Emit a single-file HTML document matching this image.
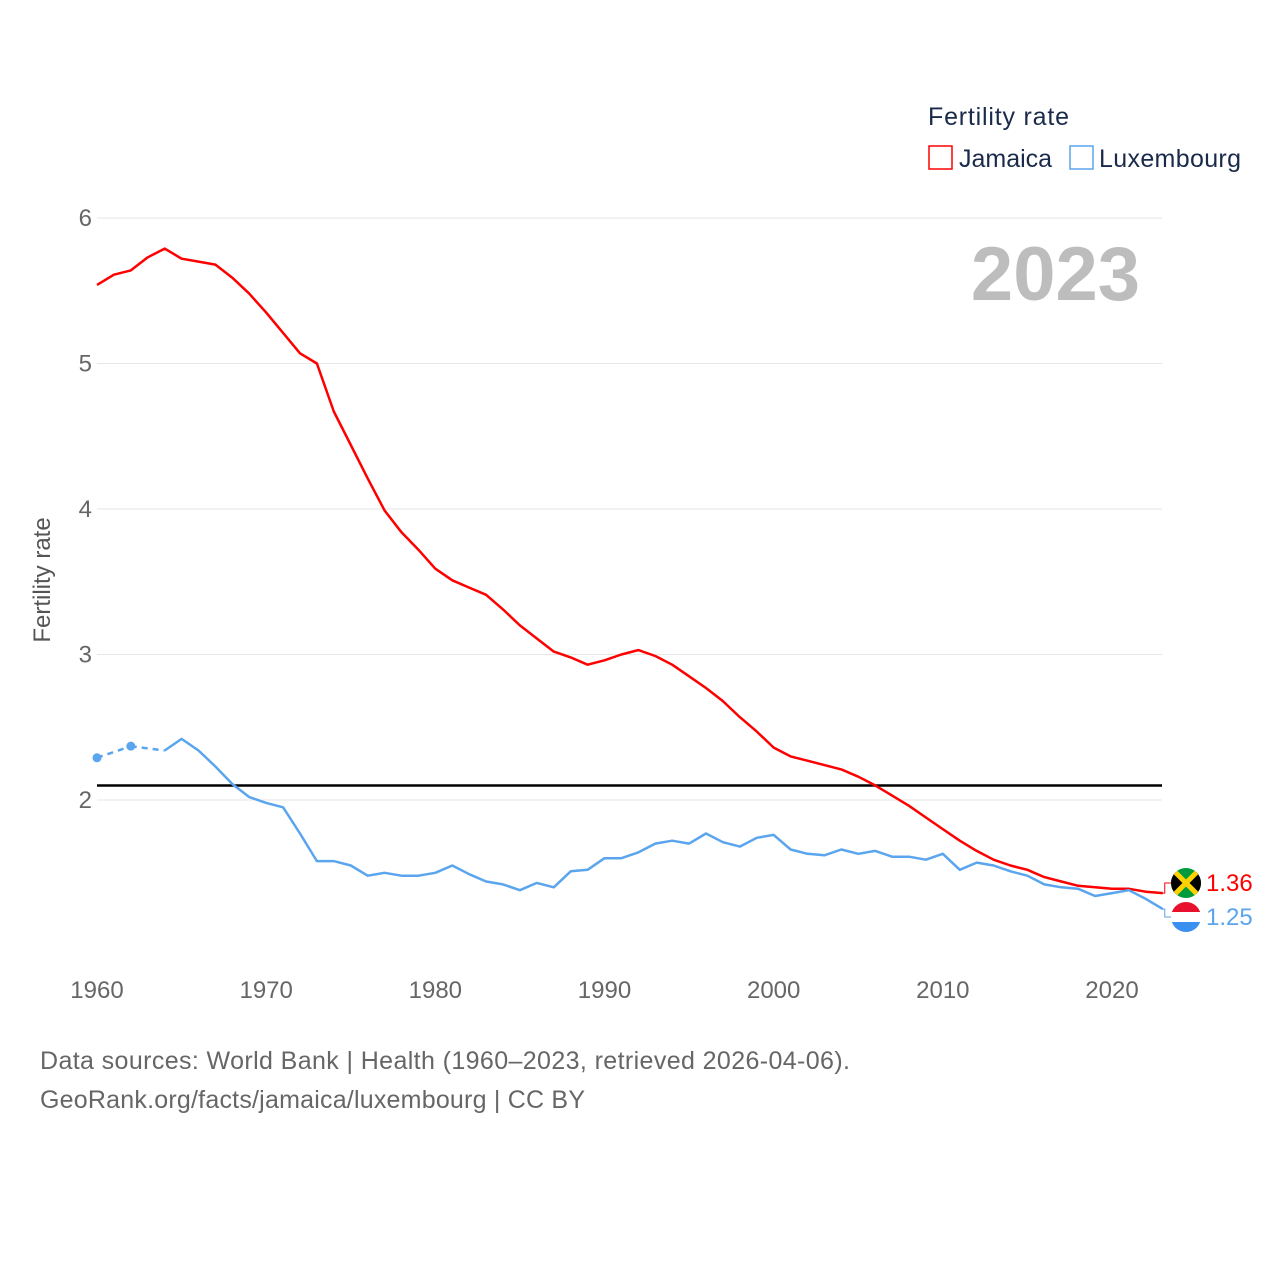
<!DOCTYPE html>
<html><head><meta charset="utf-8">
<style>
body{margin:0;background:#fff;font-family:"Liberation Sans",sans-serif;}
svg text{font-family:"Liberation Sans",sans-serif;}
</style></head>
<body>
<svg id="chart" width="1280" height="1280" viewBox="0 0 1280 1280">
  <rect width="1280" height="1280" fill="#fff"/>
  <g id="grid"></g>
  <g id="yticks"></g>
  <g id="xticks"></g>
  <text x="50" y="580" transform="rotate(-90 50 580)" text-anchor="middle" font-size="24" fill="#555">Fertility rate</text>
  <text x="1140" y="300" text-anchor="end" font-size="76" font-weight="bold" fill="#bdbdbd">2023</text>
  <g id="series"></g>
  <g>
    <text x="928" y="125" font-size="25" fill="#1a2a4a" textLength="141">Fertility rate</text>
    <g>
      <rect x="929" y="146" width="23" height="23" fill="none" stroke="#f00" stroke-width="1.5"/>
      <text x="959" y="167" font-size="25" fill="#1a2a4a">Jamaica</text>
    </g>
    <g>
      <rect x="1070" y="146" width="23" height="23" fill="none" stroke="#5aa5ee" stroke-width="1.5"/>
      <text x="1099" y="167" font-size="25" fill="#1a2a4a" textLength="142">Luxembourg</text>
    </g>
  </g>
  <text x="40" y="1069" font-size="25" fill="#666" textLength="810">Data sources: World Bank | Health (1960–2023, retrieved 2026-04-06).</text>
  <text x="40" y="1108" font-size="25" fill="#666" textLength="545">GeoRank.org/facts/jamaica/luxembourg | CC BY</text>
</svg>
<script>
const years = [];
for (let y = 1960; y <= 2023; y++) years.push(y);
const jamaica = [5.54,5.61,5.64,5.73,5.79,5.72,5.70,5.68,5.59,5.48,5.35,5.21,5.07,5.00,4.67,4.44,4.21,3.99,3.84,3.72,3.59,3.51,3.46,3.41,3.31,3.20,3.11,3.02,2.98,2.93,2.96,3.00,3.03,2.99,2.93,2.85,2.77,2.68,2.57,2.47,2.36,2.30,2.27,2.24,2.21,2.16,2.10,2.03,1.96,1.88,1.80,1.72,1.65,1.59,1.55,1.52,1.47,1.44,1.41,1.40,1.39,1.39,1.37,1.36];
const luxembourg = [2.29,null,2.37,null,2.34,2.42,2.34,2.23,2.11,2.02,1.98,1.95,1.77,1.58,1.58,1.55,1.48,1.50,1.48,1.48,1.50,1.55,1.49,1.44,1.42,1.38,1.43,1.40,1.51,1.52,1.60,1.60,1.64,1.70,1.72,1.70,1.77,1.71,1.68,1.74,1.76,1.66,1.63,1.62,1.66,1.63,1.65,1.61,1.61,1.59,1.63,1.52,1.57,1.55,1.51,1.48,1.42,1.40,1.39,1.34,1.36,1.38,1.32,1.25];
const yTicks = [2,3,4,5,6];
const xTicks = [1960,1970,1980,1990,2000,2010,2020];
const replacement = 2.1;

const NS = "http://www.w3.org/2000/svg";
const X = yr => 97 + (yr - 1960) * (1112 - 97) / 60;
const Y = v => 800 - (v - 2) * 145.5;
function mk(tag, attrs, parent) {
  const e = document.createElementNS(NS, tag);
  for (const k in attrs) e.setAttribute(k, attrs[k]);
  parent.appendChild(e);
  return e;
}
const grid = document.getElementById('grid'), yt = document.getElementById('yticks'), xt = document.getElementById('xticks'), ser = document.getElementById('series');
yTicks.forEach(t => {
  const l = mk('line', {x1: 97, x2: 1162, y1: Y(t), y2: Y(t), stroke: '#e6e6e6', 'stroke-width': 1}, grid);
  
  
  const tx = mk('text', {x: 92, y: Y(t) + 8, 'text-anchor': 'end', 'font-size': 24, fill: '#666'}, yt);
  tx.textContent = t;
  
  
});
xTicks.forEach(t => {
  const tx = mk('text', {x: X(t), y: 998, 'text-anchor': 'middle', 'font-size': 24, fill: '#666'}, xt);
  tx.textContent = t;
  
  
});
const ref = mk('line', {x1: 97, x2: 1162, y1: Y(replacement), y2: Y(replacement), stroke: '#000', 'stroke-width': 2.5}, ser);



function drawSeries(vals, color, name) {
  let solid = '', dashed = '';
  let prevIdx = -1;
  vals.forEach((v, i) => {
    if (v == null) return;
    const p = X(years[i]).toFixed(1) + ',' + Y(v).toFixed(1);
    if (prevIdx >= 0 && i - prevIdx === 1) solid += ' L' + p;
    else if (prevIdx >= 0) { dashed += ' M' + X(years[prevIdx]).toFixed(1) + ',' + Y(vals[prevIdx]).toFixed(1) + ' L' + p; solid += ' M' + p; }
    else solid += 'M' + p;
    prevIdx = i;
  });
  const d = mk('path', {d: dashed, fill: 'none', stroke: color, 'stroke-width': 2.5, 'stroke-dasharray': '6,5'}, ser);
  
  
  const s = mk('path', {d: solid, fill: 'none', stroke: color, 'stroke-width': 2.5, 'stroke-linejoin': 'round'}, ser);
  
  
  vals.forEach((v, i) => {
    if (v == null) return;
    const isolated = (i === 0 || vals[i-1] == null) && (i === vals.length - 1 || vals[i+1] == null);
    if (isolated) {
      const c = mk('circle', {cx: X(years[i]), cy: Y(v), r: 4.5, fill: color}, ser);
      
      
    }
  });
}
drawSeries(jamaica, '#ff0000', 'jamaica');
drawSeries(luxembourg, '#5aa5ee', 'luxembourg');

function endLabel(vals, color, name, ly, flag) {
  const v = vals[vals.length - 1];
  const x0 = X(2023), y0 = Y(v);
  const c = mk('path', {d: `M${x0},${y0} L${x0 + 2},${y0} L${x0 + 2},${ly} L${x0 + 10},${ly}`, fill: 'none', stroke: color, 'stroke-width': 1}, ser);
  
  
  const g = mk('g', {}, ser);
  
  
  flag(g, 1186, ly);
  const t = mk('text', {x: 1206, y: ly + 8, 'font-size': 24, fill: color}, ser);
  t.textContent = v.toFixed(2);
  
  
}
endLabel(jamaica, '#ff0000', 'jamaica', 883, (g, cx, cy) => {
  const id = 'clipJ';
  const cp = mk('clipPath', {id}, g); mk('circle', {cx, cy, r: 15}, cp);
  const gg = mk('g', {'clip-path': `url(#${id})`}, g);
  mk('rect', {x: cx - 15, y: cy - 15, width: 30, height: 30, fill: '#009b3a'}, gg);
  mk('path', {d: `M${cx-15},${cy-15} L${cx},${cy} L${cx-15},${cy+15}Z M${cx+15},${cy-15} L${cx},${cy} L${cx+15},${cy+15}Z`, fill: '#000'}, gg);
  mk('path', {d: `M${cx-15},${cy-15} L${cx+15},${cy+15} M${cx+15},${cy-15} L${cx-15},${cy+15}`, stroke: '#fed100', 'stroke-width': 5}, gg);
});
endLabel(luxembourg, '#5aa5ee', 'luxembourg', 917, (g, cx, cy) => {
  const id = 'clipL';
  const cp = mk('clipPath', {id}, g); mk('circle', {cx, cy, r: 15}, cp);
  const gg = mk('g', {'clip-path': `url(#${id})`}, g);
  mk('rect', {x: cx - 15, y: cy - 15, width: 30, height: 10, fill: '#e8112d'}, gg);
  mk('rect', {x: cx - 15, y: cy - 5, width: 30, height: 10, fill: '#fff'}, gg);
  mk('rect', {x: cx - 15, y: cy + 5, width: 30, height: 10, fill: '#3b8fee'}, gg);
});
</script>
</body></html>
